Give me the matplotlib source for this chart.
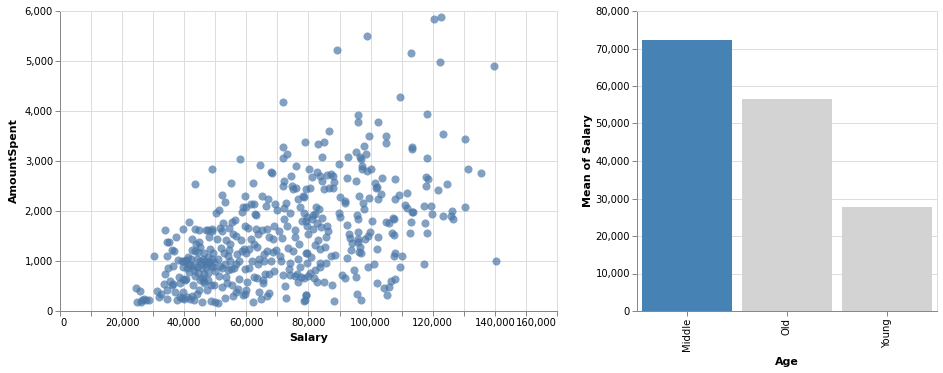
import numpy as np
import matplotlib
matplotlib.use("Agg")
import matplotlib.pyplot as plt

# scatter: Salary vs AmountSpent (grouped by salary band)
salary = [
    # 20k
    24500, 25700, 24800, 26400, 27200, 27600, 28500, 26000,
    # 30k
    30400, 31300, 32000, 32600, 33800, 34300, 35000, 34400, 34700, 33800,
    33500, 34300, 34600, 36000, 36000, 36400, 36700, 37400, 37600, 38000,
    38200, 38600, 39200, 39500, 39200, 39500, 39500, 39700, 35500, 37000,
    38500, 36500, 39800,
    # 40k
    40000, 40500, 41000, 40500, 41500, 41400, 42400, 42500, 43400, 43500,
    43600, 44000, 42900, 43200, 44200, 44600, 44800, 45000, 45600, 45700,
    46300, 46400, 47000, 47200, 47500, 47700, 48000, 48200, 48500, 48700,
    48800, 49000, 49300, 49300,
    42000, 43000, 44500, 45500, 46000, 47000, 48000, 49000, 43500, 45000,
    47800, 41500, 44000, 46500, 48500, 40800, 41800, 42600, 44800, 46200,
    47300, 49500, 40200, 42200, 43800, 45200, 46800, 48800, 49600, 41200,
    43200, 45800, 47600, 44400, 49800,
    # 50k
    49900, 50200, 50500, 51000, 51300, 51500, 51700, 52000, 52300, 52300,
    52600, 52800, 53000, 53200, 53400, 53600, 54000, 54300, 54500, 54700,
    55100, 55300, 55500, 55600, 55800, 56000, 56300, 57000, 57700, 58000,
    58200, 58600, 58800, 59000, 59300, 59500, 59500, 59600, 59600,
    50800, 51500, 53000, 54000, 55000, 56500, 57500, 58500, 51200, 53800,
    56600, 57200, 52200, 54800, 56800,
    # 60k
    60000, 60000, 60000, 60500, 61000, 61600, 62000, 62200, 62400, 62500,
    62600, 63000, 63200, 63400, 63700, 64000, 64400, 64600, 64900, 65100,
    65400, 65600, 66000, 66200, 66500, 66800, 67100, 67200, 67400, 67800,
    68100, 68500, 68900, 69300, 69500, 69800,
    67400, 65500, 63300, 60100,
    61500, 63800, 65800, 68000, 69000, 61800, 64200, 66500, 68500, 62800,
    60800,
    # 70k
    71700, 71700, 71700, 72000, 71700, 72200, 72000, 71500, 71300, 71700,
    72400, 72600, 73200, 72700, 73500, 74000, 74200, 74500, 74800, 75000,
    75500, 75800, 75900, 75500, 76200, 76000, 76600, 76600, 76600, 77300,
    77600, 77800, 78300, 78500, 78600, 78900, 79200, 79200, 78600, 79500,
    79500,
    74000, 77300,
    70500, 73000, 75000, 77000, 70800, 73800, 78400,
    # 80k
    83100, 85100, 86700, 84200, 80100, 81000, 82600, 83700, 84300, 85900,
    87200, 88000, 88200, 85000, 86500, 88000, 90100, 80500, 82300, 82200,
    83500, 81300, 84300, 81000, 82800, 83900, 85900, 86200, 89700, 90100,
    79600, 79100, 81300, 79900, 83000, 85600, 82100, 83700, 85400, 87400,
    88500, 79200, 80900, 79400, 83700, 82100, 83700, 85600, 80500, 81800,
    82600, 79900, 85000, 87700, 79200, 78900, 88200,
    # 90k - 110k
    95800, 96000, 102300, 104800, 104800, 99600, 98000, 113200, 113200, 89900,
    92800, 95300, 96600, 96900, 98500, 97100, 97100, 98700, 100100, 92500,
    95400, 101400, 102000, 103600, 107700, 101700, 103300, 96300, 99600, 102500,
    91700, 91700, 97400, 98000, 107800, 109100, 111600, 111100, 111600, 113000,
    113400, 112600, 95700, 96000, 92500, 93100, 93400, 95800, 96000, 96000,
    96600, 96300, 96900, 98200, 99000, 99800, 102300, 102000, 104900, 105900,
    107100, 107600, 107000, 107400, 107800, 107600, 110000, 109600, 101200, 99200,
    102000, 104400, 105900, 105200, 106600, 107800, 95500, 96900, 90700, 91700,
    94700, 95300, 92500, 93700, 93900, 100300,
    # 110k+ and the high spenders
    118000, 123400, 130400, 118000, 131200, 135400, 117800, 118600, 117800, 124500,
    121800, 117300, 119400, 130500, 113700, 119600, 123200, 126100, 125900, 126600,
    117500, 118200, 117200, 140300,
    120400, 122600, 98700, 89100, 113000, 122300, 139700, 109300,
]

amount_spent = [
    # 20k
    460, 400, 180, 220, 250, 230, 230, 190,
    # 30k
    1093, 400, 287, 333, 1620, 1373, 1373, 1093, 867, 740,
    533, 420, 233, 1220, 520, 540, 1207, 1480, 220, 1027,
    673, 287, 253, 1640, 1000, 880, 650, 387, 600, 380,
    560, 900, 240,
    # 40k
    1000, 1020, 867, 647, 773, 1773, 1447, 1227, 1647, 2533,
    1193, 880, 513, 227, 347, 1387, 1620, 1000, 667, 180,
    1153, 733, 1620, 947, 627, 1627, 1487, 1240, 520, 207,
    2847, 1647, 880, 1160,
    950, 820, 760, 950, 1050, 880, 980, 1050, 700, 620,
    760, 930, 1050, 600, 900, 280, 250, 300, 420, 560,
    420, 530, 620, 1050, 1350, 1280, 1000, 1600, 980, 1080,
    900, 860, 1080, 1180, 800,
    # 50k
    180, 1953, 1433, 167, 2020, 1667, 1267, 2320, 867, 480,
    1767, 1160, 253, 2187, 673, 1413, 813, 1227, 1653, 1000,
    2553, 1780, 527, 300, 1540, 867, 1820, 1147, 640, 3047,
    1413, 1973, 320, 2087, 1240, 1693, 2300, 840, 347,
    1050, 900, 950, 1100, 850, 950, 1000, 1200, 700, 560,
    380, 440, 1600, 1350, 1500,
    # 60k
    2087, 1160, 420, 1670, 867, 2140, 180, 2553, 1340, 680,
    2133, 1920, 1640, 1287, 947, 373, 2927, 233, 1613, 2300,
    613, 993, 733, 2093, 1200, 293, 2233, 1487, 747, 2773,
    2767, 1180, 1693, 2133, 1227, 2027,
    367, 553, 653, 587,
    1450, 1550, 1150, 1000, 800, 1000, 1050, 1650, 1450, 1950,
    1250,
    # 70k
    4187, 3287, 3053, 2607, 2493, 2067, 1833, 1460, 1000, 713,
    500, 260, 3133, 2167, 1253, 960, 1953, 2700, 2493, 2440,
    1627, 1480, 2460, 693, 733, 2900, 2247, 573, 1040, 2087,
    680, 1800, 2300, 1953, 660, 3387, 2440, 313, 207, 1693,
    1160,
    720, 887,
    1600, 1700, 1200, 1350, 1100, 850, 2280,
    # 80k
    3347, 3387, 3607, 3073, 2840, 2687, 2780, 2693, 2600, 2720,
    2740, 2700, 2573, 2433, 2460, 2460, 2280, 2453, 2087, 1933,
    2033, 1920, 1853, 1833, 1767, 1673, 1700, 1607, 1953, 1873,
    1887, 1800, 1633, 1533, 1420, 1487, 1320, 1240, 1273, 1100,
    1120, 1167, 1087, 967, 967, 820, 887, 953, 753, 653,
    587, 700, 587, 520, 320, 220, 207,
    # 90k - 110k
    3920, 3780, 3787, 3507, 3367, 3493, 3307, 3273, 3240, 2933,
    3087, 3173, 3087, 3040, 3133, 2900, 2840, 2807, 2840, 2653,
    2593, 2553, 2487, 2653, 2633, 2453, 2340, 2300, 2253, 2240,
    2200, 2160, 2153, 2040, 2233, 2320, 2353, 2120, 2053, 1787,
    1987, 1567, 1913, 1833, 1720, 1540, 1453, 1587, 1433, 1373,
    1287, 1187, 1153, 1440, 1507, 1587, 1487, 1240, 1787, 1767,
    1867, 1840, 1567, 1520, 1153, 1107, 1107, 873, 940, 887,
    553, 453, 473, 320, 607, 640, 340, 220, 720, 653,
    820, 687, 1053, 1220, 1353, 1800,
    # 110k+ and the high spenders
    3947, 3540, 3440, 3067, 2847, 2753, 2687, 2633, 2507, 2540,
    2420, 2107, 2100, 2080, 1980, 1933, 1900, 2007, 1900, 1833,
    1767, 1567, 940, 1007,
    5833, 5880, 5507, 5213, 5153, 4987, 4900, 4280,
]

assert len(salary) == len(amount_spent)

# bar: mean salary by age group
age_groups = ["Middle", "Old", "Young"]
mean_salary = [72360, 56600, 27850]
bar_colors = ["#4682b4", "#d3d3d3", "#d3d3d3"]

GRID = "#dddddd"
AXIS = "#888888"
PX = 0.72  # one pixel in points at dpi 100


def style_axes(ax):
    ax.set_axisbelow(True)
    for side in ["top", "right"]:
        ax.spines[side].set_color(GRID)
        ax.spines[side].set_linewidth(PX)
    for side in ["left", "bottom"]:
        ax.spines[side].set_color(AXIS)
        ax.spines[side].set_linewidth(PX)
    ax.tick_params(length=5 * PX, width=PX, color=AXIS, labelsize=7.2,
                   labelcolor="black", pad=2 * PX)


def comma(v):
    return f"{int(v):,}"


fig = plt.figure(figsize=(9.43, 3.73), dpi=100)

# ---- scatter ----
ax1 = fig.add_axes([60 / 943, 62 / 373, 497 / 943, 300 / 373])
ax1.scatter(salary, amount_spent, s=34, color="#4c78a8", alpha=0.7,
            linewidths=0, zorder=3)
ax1.set_xlim(0, 160000)
ax1.set_ylim(0, 6000)
xt = np.arange(0, 160001, 10000)
ax1.set_xticks(xt)
ax1.set_xticklabels([comma(v) if i % 2 == 0 else "" for i, v in enumerate(xt)])
yt = np.arange(0, 6001, 1000)
ax1.set_yticks(yt)
ax1.set_yticklabels([comma(v) for v in yt])
labs = ax1.get_xticklabels()
labs[0].set_ha("left")
labs[-1].set_ha("right")
ax1.grid(True, color=GRID, linewidth=PX)
style_axes(ax1)
ax1.set_xlabel("Salary", fontsize=7.9, fontweight="bold")
ax1.set_ylabel("AmountSpent", fontsize=7.9, fontweight="bold")
ax1.xaxis.set_label_coords(0.5, -0.072)
ax1.yaxis.set_label_coords(-0.082, 0.5)

# ---- bars ----
ax2 = fig.add_axes([637 / 943, 62 / 373, 300 / 943, 300 / 373])
pos = np.arange(len(age_groups))
ax2.bar(pos, mean_salary, width=0.9, color=bar_colors, zorder=3)
ax2.set_xlim(-0.5, len(age_groups) - 0.5)
ax2.set_ylim(0, 80000)
ax2.set_xticks(pos)
ax2.set_xticklabels(age_groups, rotation=90)
yt2 = np.arange(0, 80001, 10000)
ax2.set_yticks(yt2)
ax2.set_yticklabels([comma(v) for v in yt2])
ax2.grid(True, axis="y", color=GRID, linewidth=PX)
style_axes(ax2)
ax2.set_xlabel("Age", fontsize=7.9, fontweight="bold")
ax2.set_ylabel("Mean of Salary", fontsize=7.9, fontweight="bold")
ax2.xaxis.set_label_coords(0.5, -0.152)
ax2.yaxis.set_label_coords(-0.146, 0.5)

fig.savefig("out.png", dpi=100)
